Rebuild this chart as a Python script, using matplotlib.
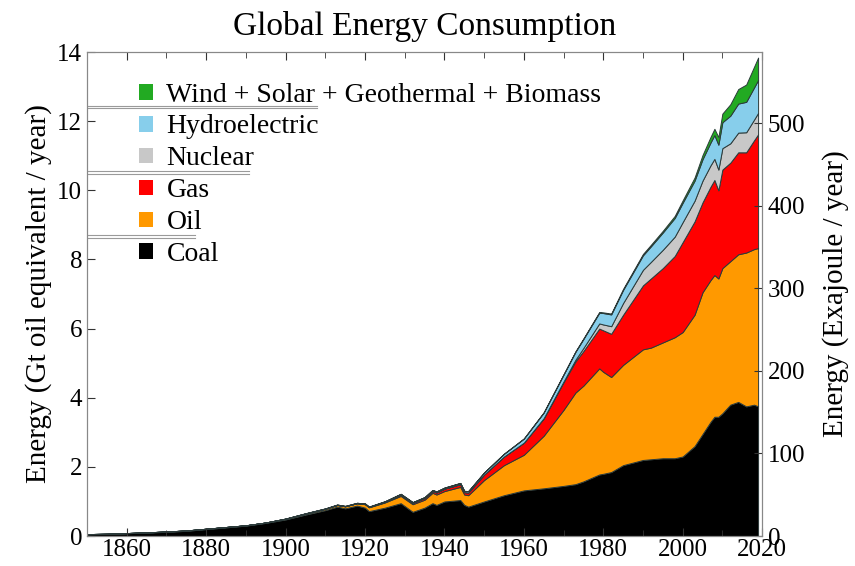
import numpy as np
import matplotlib.pyplot as plt
from matplotlib.ticker import MultipleLocator

# values, in Gt oil equivalent / year
years = [1850, 1855, 1860, 1865, 1870, 1875, 1880, 1885, 1890, 1895, 1900, 1905,
         1910, 1913, 1915, 1918, 1920, 1921, 1925, 1929, 1932, 1935, 1937, 1938,
         1940, 1944, 1945, 1946, 1950, 1955, 1960, 1965, 1970, 1973, 1975, 1979,
         1980, 1982, 1985, 1990, 1992, 1995, 1998, 2000, 2003, 2005, 2007, 2008,
         2009, 2010, 2012, 2014, 2016, 2018, 2019]

coal = [0.05, 0.06, 0.08, 0.10, 0.12, 0.15, 0.20, 0.25, 0.30, 0.38, 0.48, 0.62,
        0.75, 0.85, 0.80, 0.88, 0.82, 0.72, 0.82, 0.95, 0.70, 0.82, 0.95, 0.90,
        1.00, 1.04, 0.90, 0.85, 1.00, 1.18, 1.32, 1.38, 1.45, 1.50, 1.58, 1.78,
        1.80, 1.85, 2.05, 2.20, 2.22, 2.25, 2.25, 2.30, 2.60, 2.95, 3.30, 3.45,
        3.45, 3.55, 3.80, 3.88, 3.75, 3.80, 3.75]

oil = [0.005, 0.005, 0.005, 0.005, 0.01, 0.01, 0.01, 0.01, 0.01, 0.01, 0.02, 0.03,
       0.04, 0.05, 0.06, 0.07, 0.10, 0.11, 0.15, 0.21, 0.22, 0.23, 0.30, 0.30,
       0.30, 0.38, 0.30, 0.33, 0.62, 0.87, 1.03, 1.52, 2.20, 2.65, 2.77, 3.07,
       2.95, 2.75, 2.90, 3.20, 3.23, 3.35, 3.50, 3.60, 3.80, 4.10, 4.10, 4.10,
       4.00, 4.20, 4.15, 4.27, 4.45, 4.50, 4.58]

gas = [0, 0, 0, 0, 0, 0, 0, 0, 0, 0, 0, 0,
       0, 0, 0, 0, 0.01, 0.01, 0.02, 0.04, 0.04, 0.05, 0.05, 0.06,
       0.07, 0.08, 0.07, 0.08, 0.16, 0.25, 0.35, 0.50, 0.80, 0.90, 1.00, 1.15,
       1.20, 1.25, 1.45, 1.85, 2.00, 2.15, 2.35, 2.60, 2.70, 2.60, 2.70, 2.75,
       2.55, 2.85, 2.85, 2.95, 2.90, 3.15, 3.29]

nuclear = [0] * 31 + [0.01, 0.02, 0.05, 0.09, 0.15,
                      0.17, 0.22, 0.34, 0.45, 0.48, 0.53, 0.56, 0.58, 0.60, 0.63, 0.62, 0.61,
                      0.60, 0.62, 0.56, 0.57, 0.58, 0.60, 0.62]

hydro = [0, 0, 0, 0, 0, 0, 0, 0, 0, 0, 0.005, 0.007,
         0.008, 0.009, 0.01, 0.01, 0.01, 0.01, 0.015, 0.02, 0.02, 0.025, 0.03, 0.03,
         0.03, 0.035, 0.035, 0.04, 0.06, 0.08, 0.12, 0.16, 0.20, 0.23, 0.26, 0.31,
         0.33, 0.34, 0.38, 0.42, 0.45, 0.50, 0.54, 0.56, 0.58, 0.62, 0.66, 0.69,
         0.72, 0.75, 0.80, 0.84, 0.88, 0.93, 0.95]

renewables = [0] * 31 + [0.01, 0.01, 0.012, 0.015, 0.02,
                         0.02, 0.025, 0.03, 0.04, 0.045, 0.05, 0.06, 0.07, 0.09, 0.12, 0.16, 0.18,
                         0.22, 0.25, 0.33, 0.42, 0.50, 0.60, 0.65]

labels = ["Coal", "Oil", "Gas", "Nuclear", "Hydroelectric",
          "Wind + Solar + Geothermal + Biomass"]
colors = ["#000000", "#FF9900", "#FF0000", "#C8C8C8", "#87CEEB", "#22AA22"]

GTOE_TO_EJ = 41.868

plt.rcParams["font.family"] = ["Liberation Serif", "DejaVu Serif"]

fig = plt.figure(figsize=(8.55, 5.66), dpi=100)
ax = fig.add_axes([0.1018, 0.053, 0.7895, 0.855])

polys = ax.stackplot(years, coal, oil, gas, nuclear, hydro, renewables,
                     colors=colors, labels=labels,
                     edgecolor="#2b3a3a", linewidth=0.7)

ax.set_xlim(1850, 2020)
ax.set_ylim(0, 14)
ax.xaxis.set_major_locator(MultipleLocator(20))
ax.xaxis.set_minor_locator(MultipleLocator(10))
ax.yaxis.set_major_locator(MultipleLocator(2))
ax.tick_params(axis="both", which="both", direction="in", labelsize=18,
               color="#333333")
ax.tick_params(axis="x", which="both", top=True, pad=2)
ax.tick_params(which="major", length=6)
ax.tick_params(which="minor", length=4)
ax.set_ylabel("Energy (Gt oil equivalent / year)", fontsize=21, labelpad=4)
ax.set_title("Global Energy Consumption", fontsize=24, pad=12)

for s in ax.spines.values():
    s.set_color("#888888")

# leftover box lines around the legend entries, as in the original export
for yv, x1 in [(12.45, 0.34), (12.38, 0.34), (10.55, 0.24), (10.48, 0.24),
               (8.70, 0.16), (8.63, 0.16)]:
    ax.plot([0, x1], [yv, yv], color="#9a9a9a", lw=0.8,
            transform=ax.get_yaxis_transform())

# right axis in exajoule
ax2 = ax.twinx()
ax2.set_ylim(0, 14 * GTOE_TO_EJ)
ax2.yaxis.set_major_locator(MultipleLocator(100))
ax2.tick_params(axis="y", direction="in", labelsize=18, length=6,
                color="#333333", pad=4)
ax2.set_ylabel("Energy (Exajoule / year)", fontsize=21, labelpad=12)
for s in ax2.spines.values():
    s.set_color("#888888")

handles, labs = ax.get_legend_handles_labels()
leg = ax.legend(handles[::-1], labs[::-1], loc="upper left", frameon=False,
                fontsize=20, handlelength=0.5, handleheight=0.5,
                handletextpad=0.5, labelspacing=0.25,
                bbox_to_anchor=(0.06, 0.96), borderaxespad=0)
for h in leg.legend_handles:
    h.set_edgecolor("none")

fig.savefig("out.png", dpi=100)
